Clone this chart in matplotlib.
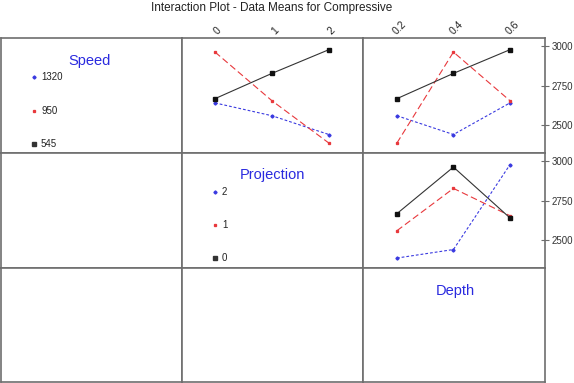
import matplotlib
matplotlib.use("Agg")
import matplotlib.pyplot as plt
import matplotlib.transforms as mtransforms

plt.rcParams["font.family"] = ["Liberation Sans", "DejaVu Sans"]

TITLE = "Interaction Plot - Data Means for Compressive"
FACTORS = ["Speed", "Projection", "Depth"]

speed_levels = ["1320", "950", "545"]
proj_levels = [0, 1, 2]
depth_levels = [0.2, 0.4, 0.6]
proj_labels = ["0", "1", "2"]
depth_labels = ["0.2", "0.4", "0.6"]

# Speed x Projection (row 1, col 2)
sp_1320 = [2640, 2559, 2440]
sp_950 = [2962, 2654, 2386]
sp_545 = [2667, 2827, 2977]

# Speed x Depth (row 1, col 3)
sd_1320 = [2559, 2440, 2640]
sd_950 = [2386, 2962, 2654]
sd_545 = [2667, 2827, 2977]

# Projection x Depth (row 2, col 3)
pd_2 = [2386, 2440, 2977]
pd_1 = [2559, 2827, 2654]
pd_0 = [2667, 2962, 2640]

y_ticks = [2500, 2750, 3000]

BLUE = "#2a2adf"
RED = "#e8383c"
BLACK = "#111111"
BORDER = "#6e6e6e"
TEXT = "#222222"

STYLES = [
    dict(color="#3a3ae0", ls=(0, (2.5, 1.8)), marker="D", ms=1.6),
    dict(color=RED, ls=(0, (6, 3)), marker="s", ms=1.4),
    dict(color="#333333", ls="-", marker="s", ms=2.5, mfc=BLACK, mec=BLACK),
]

W, H = 574, 383
fig = plt.figure(figsize=(W / 100, H / 100), dpi=100)
fig.text(272 / W, 1 - 8 / H, TITLE, ha="center", va="center", fontsize=8.5, color=TEXT)

col_x = [1, 182, 363, 545]
row_y = [38, 153, 268, 382]

axes = {}
for r in range(3):
    for c in range(3):
        x0, x1 = col_x[c], col_x[c + 1]
        y0, y1 = row_y[r], row_y[r + 1]
        ax = fig.add_axes([x0 / W, 1 - y1 / H, (x1 - x0) / W, (y1 - y0) / H])
        ax.set_xticks([])
        ax.set_yticks([])
        for s in ax.spines.values():
            s.set_color(BORDER)
            s.set_linewidth(1.2)
        axes[(r, c)] = ax

shift = mtransforms.ScaledTranslation(3 / 100, 0, fig.dpi_scale_trans)


def draw_panel(ax, xs, series, xlim, xlabels, top_labels):
    for ys, st in zip(series, STYLES):
        ax.plot(xs, ys, lw=0.8, **st)
    ax.set_xlim(*xlim)
    ax.set_ylim(2323, 3051)
    if top_labels:
        ax.set_xticks(xs)
        ax.set_xticklabels(xlabels, rotation=45, fontsize=7.5, color=TEXT)
        ax.xaxis.set_ticks_position("top")
        ax.tick_params(axis="x", length=0, pad=1)
        for lab in ax.get_xticklabels():
            lab.set_transform(lab.get_transform() + shift)
    else:
        ax.set_xticks([])


draw_panel(axes[(0, 1)], proj_levels, [sp_1320, sp_950, sp_545],
           (-0.58, 2.6), proj_labels, True)
draw_panel(axes[(0, 2)], depth_levels, [sd_1320, sd_950, sd_545],
           (0.08, 0.724), depth_labels, True)
draw_panel(axes[(1, 2)], depth_levels, [pd_2, pd_1, pd_0],
           (0.08, 0.724), depth_labels, False)

for r in (0, 1):
    ax = axes[(r, 2)]
    ax.yaxis.set_ticks_position("right")
    ax.set_yticks(y_ticks)
    ax.set_yticklabels([str(t) for t in y_ticks], fontsize=7, color="#333333")
    ax.tick_params(axis="y", direction="inout", length=6, width=0.8,
                   color=BORDER, pad=2)


def legend_block(title, tx, ty, labels, mx, my_list):
    fig.text(tx / W, 1 - ty / H, title, ha="center", va="center",
             fontsize=10.5, color=BLUE)
    for lab, my, st in zip(labels, my_list, STYLES):
        fig.lines.append(plt.Line2D([mx / W], [1 - my / H], transform=fig.transFigure,
                                    marker=st["marker"], ms=st["ms"], color=st["color"],
                                    ls="none"))
        fig.text((mx + 7) / W, 1 - my / H, lab, ha="left", va="center",
                 fontsize=7, color=TEXT)


legend_block(FACTORS[0], 90, 61, speed_levels, 34, [77, 110.5, 144])
legend_block(FACTORS[1], 272, 175, ["2", "1", "0"], 215, [192, 224.5, 258])
fig.text(455 / W, 1 - 291 / H, FACTORS[2], ha="center", va="center",
         fontsize=10.5, color=BLUE)

fig.savefig("out.png", dpi=100)
